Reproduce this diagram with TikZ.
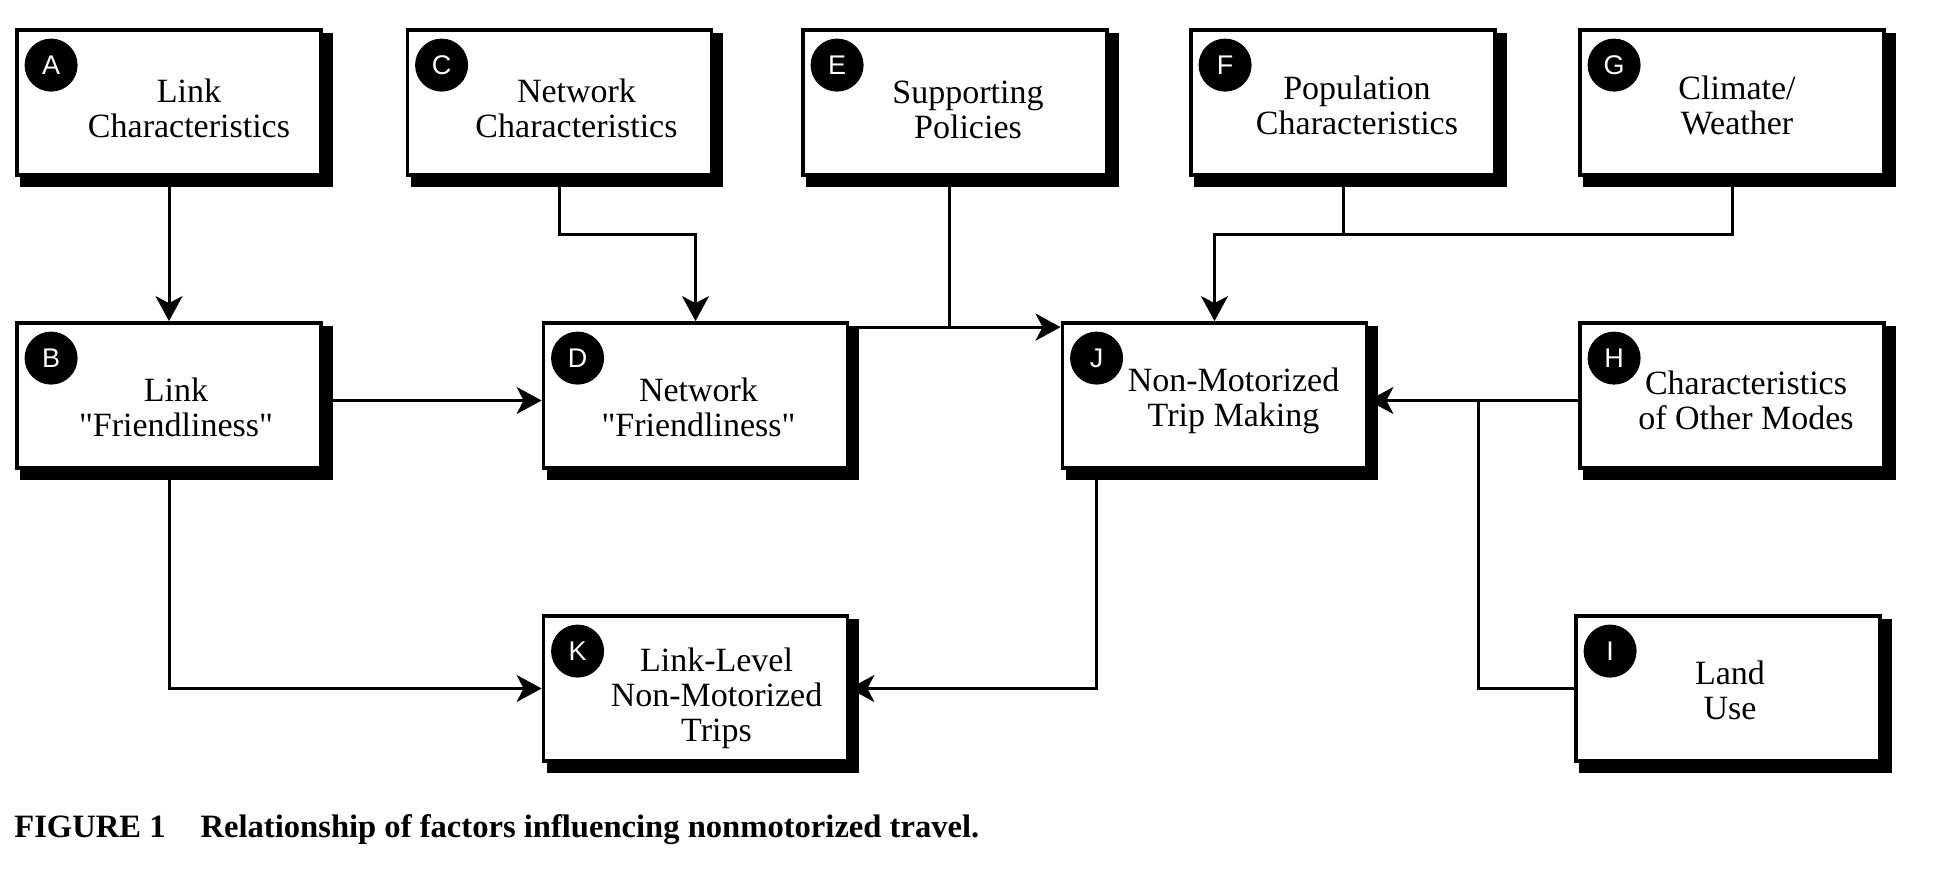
\documentclass[tikz,border=0pt]{standalone}
\usepackage{fontspec}
\setmainfont{Liberation Serif}
\newfontfamily\tagfont{Liberation Sans}
\usetikzlibrary{
    arrows.meta,
    positioning,
    calc,
    backgrounds,
}

\begin{document}
\begin{tikzpicture}[x=0.5pt, y=-0.5pt,
        box/.style={draw, line width=1.9pt, fill=white, minimum width=152pt, minimum height=72.5pt, inner sep=0pt},
        tag/.style={circle, fill=black, text=white, minimum size=26.5pt, inner sep=0pt, font=\tagfont\fontsize{13.5}{13.5}\selectfont},
        lbl/.style={align=center, inner sep=0pt, font=\fontsize{17}{17.5}\selectfont},
        wire/.style={line width=1.5pt},
        flow/.style={wire, -{Stealth[length=12.5pt, width=13.5pt, inset=3.5pt]}},
    ]
        \useasboundingbox (0,0) rectangle (1940,894);
        % top row
        \node[box] (A) at (169,102.5) {};
        \node[box] (C) at (559.5,102.5) {};
        \node[box] (E) at (955,102.5) {};
        \node[box] (F) at (1343,102.5) {};
        \node[box] (G) at (1732,102.5) {};
        % middle row
        \node[box] (B) at (169,395.5) {};
        \node[box] (D) at (695.5,395.5) {};
        \node[box] (J) at (1214.5,395.5) {};
        \node[box] (H) at (1732,395.5) {};
        % bottom row
        \node[box] (K) at (695.5,688.5) {};
        \node[box] (I) at (1728,688.5) {};
        % shadows
        \begin{scope}[on background layer]
            \foreach \n in {A,...,K}
                \fill[black] ([shift={(2.5pt,-2.5pt)}]\n.north west) rectangle ([shift={(5pt,-5pt)}]\n.south east);
        \end{scope}
        % letters
        \foreach \n in {A,...,K}
            \node[tag] (\n-tag) at ([shift={(18pt,-18.5pt)}]\n.north west) {\n};
        % texts
        \node[lbl] (A-txt) at ([shift={(10pt,-3pt)}]A.center) {Link\\Characteristics};
        \node[lbl] (C-txt) at ([shift={(8.5pt,-3pt)}]C.center) {Network\\Characteristics};
        \node[lbl] (E-txt) at ([shift={(6.5pt,-3.5pt)}]E.center) {Supporting\\Policies};
        \node[lbl] (F-txt) at ([shift={(7pt,-1.5pt)}]F.center) {Population\\Characteristics};
        \node[lbl] (G-txt) at ([shift={(2.5pt,-1.5pt)}]G.center) {Climate/\\Weather};
        \node[lbl] (B-txt) at ([shift={(3.5pt,-6pt)}]B.center) {Link\\\textquotedbl Friendliness\textquotedbl};
        \node[lbl] (D-txt) at ([shift={(1.5pt,-6pt)}]D.center) {Network\\\textquotedbl Friendliness\textquotedbl};
        \node[lbl] (J-txt) at ([shift={(9.5pt,-2.5pt)}]J.center) {Non-Motorized\\Trip Making};
        \node[lbl] (H-txt) at ([shift={(7pt,-2.5pt)}]H.center) {Characteristics\\of Other Modes};
        \node[lbl] (I-txt) at ([shift={(1pt,-1pt)}]I.center) {Land\\Use};
        \node[lbl] (K-txt) at ([shift={(10.5pt,-5pt)}]K.center) {Link-Level\\Non-Motorized\\Trips};
        % connectors
        \draw[flow] (A) -- (B);
        \draw[flow] (C.south) -- ++(0,58) -| (D.north);
        \coordinate (dj) at ([yshift=-3pt]D.north east);
        \draw[flow] (dj) -- (dj -| J.west);
        \draw[wire] ([xshift=-3pt]E.south) -- ([xshift=-3pt]E.south |- dj);
        \draw[flow] (G.south) -- ++(0,58) coordinate (fg) -| (J.north);
        \draw[wire] (F.south) -- (F.south |- fg);
        \draw[flow] ([yshift=-2.5pt]B.east) -- ([yshift=-2.5pt]D.west);
        \draw[flow] ([yshift=-2.5pt]H.west) -- ([yshift=-2.5pt]J.east);
        \coordinate (hj) at (1478,400.5);
        \draw[wire] (I.west) -| (hj);
        \draw[flow] (B.south) |- (K.west);
        \draw[flow] ([xshift=18pt]J.south west) |- (K.east);
        % caption
        \node[anchor=base west, inner sep=0pt, font=\bfseries\fontsize{16.3}{18}\selectfont] (caption) at (14,837)
            {FIGURE 1\hspace{17.5pt}Relationship of factors influencing nonmotorized travel.};
    \end{tikzpicture}
\end{document}
